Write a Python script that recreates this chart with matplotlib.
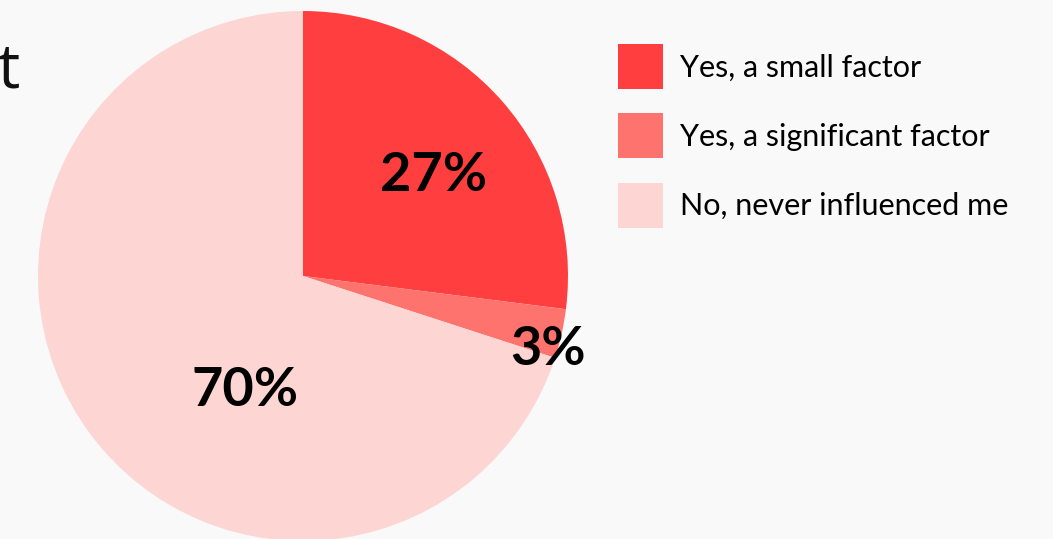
import matplotlib
matplotlib.use("Agg")
import matplotlib.pyplot as plt
from matplotlib.patches import Patch
import numpy as np

# Survey answers and their shares (%)
categories = ["Yes, a small factor", "Yes, a significant factor", "No, never influenced me"]
shares = [27, 3, 70]
value_labels = ["27%", "3%", "70%"]
colors = ["#FF3F3F", "#FF736E", "#FDD5D3"]

# label placement on the pie: (angle in degrees, fraction of radius)
label_spots = [(37.5, 0.62), (-16.8, 0.965), (-116.8, 0.485)]

W, H = 1053, 539
fig = plt.figure(figsize=(W / 100, H / 100), dpi=100, facecolor="#F9F9F9")

cx, cy, r = 303, 263, 265
ax = fig.add_axes([(cx - r) / W, (cy - r) / H, 2 * r / W, 2 * r / H])
ax.set_facecolor("none")
wedges, _ = ax.pie(shares, colors=colors, startangle=90, counterclock=False,
                   radius=1, wedgeprops=dict(linewidth=0))
ax.set_xlim(-1, 1)
ax.set_ylim(-1, 1)
ax.axis("off")

for txt, (ang, frac) in zip(value_labels, label_spots):
    a = np.deg2rad(ang)
    ax.text(frac * np.cos(a), frac * np.sin(a), txt, ha="center", va="center",
            fontsize=39, fontweight="bold", family="Lato", color="#000000")

# tail of the heading running in from the left
fig.text(-2 / W, 1 - 88 / H, "t", ha="left", va="baseline",
         fontsize=45, fontweight="normal", family="Open Sans", color="#111111")

handles = [Patch(facecolor=c, edgecolor="none") for c in colors]
fig.legend(handles, categories, loc="upper left",
           bbox_to_anchor=(618 / W, 1 - 44 / H), frameon=False,
           prop=dict(family="Lato", size=22),
           handlelength=1.47, handleheight=1.89, handletextpad=0.55,
           labelspacing=0.8, borderaxespad=0, borderpad=0,
           labelcolor="#000000")

fig.savefig("out.png", dpi=100, facecolor=fig.get_facecolor())
